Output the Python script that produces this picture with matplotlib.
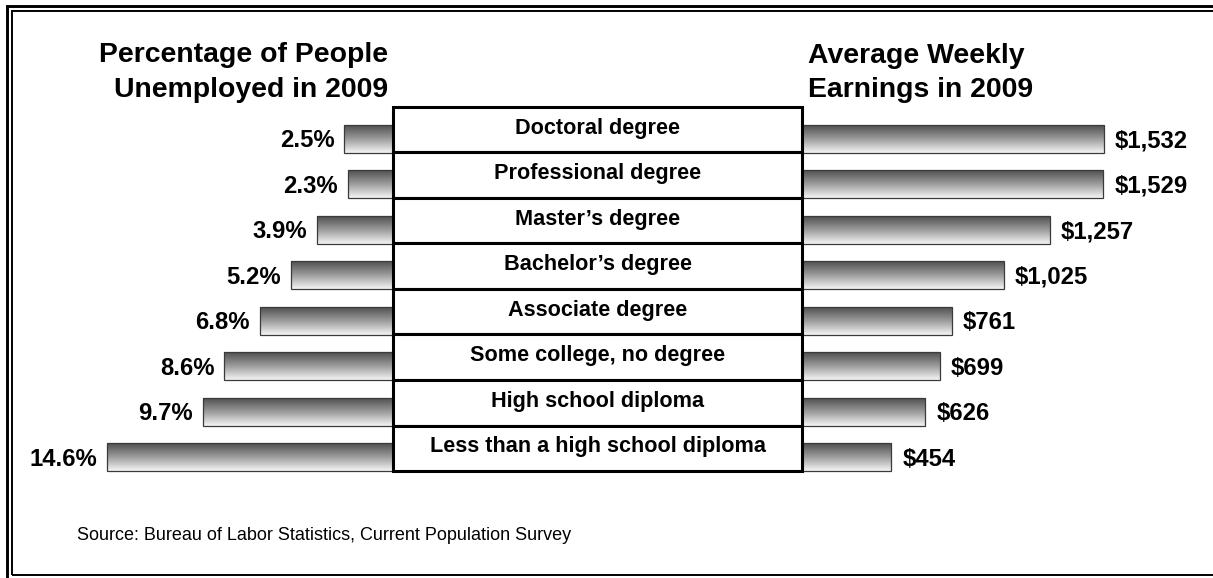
import numpy as np
import matplotlib.pyplot as plt
from matplotlib.patches import Rectangle
from matplotlib.colors import LinearSegmentedColormap

# Data
degrees = ["Doctoral degree", "Professional degree", "Master\u2019s degree",
           "Bachelor\u2019s degree", "Associate degree", "Some college, no degree",
           "High school diploma", "Less than a high school diploma"]
unemployment = [2.5, 2.3, 3.9, 5.2, 6.8, 8.6, 9.7, 14.6]
earnings = [1532, 1529, 1257, 1025, 761, 699, 626, 454]
unemp_labels = ["2.5%", "2.3%", "3.9%", "5.2%", "6.8%", "8.6%", "9.7%", "14.6%"]
earn_labels = ["$1,532", "$1,529", "$1,257", "$1,025", "$761", "$699", "$626", "$454"]

W, H = 1213, 578
fig = plt.figure(figsize=(W / 100, H / 100), dpi=100)
plt.rcParams['font.family'] = ['Liberation Sans', 'DejaVu Sans']


def px_axes(x0, y0, x1, y1):
    # axes placed by pixel box (top-left origin)
    ax = fig.add_axes([x0 / W, 1 - y1 / H, (x1 - x0) / W, (y1 - y0) / H])
    ax.set_axis_off()
    return ax


n = len(degrees)
row_top, row_h = 107, 45.5
y_bot = row_top + row_h * (n + 0.1)
ys = np.arange(n) + 0.7

ax_l = px_axes(20, row_top, 393, y_bot)
ax_r = px_axes(802, row_top, 1200, y_bot)
ax_c = px_axes(393, row_top, 802, y_bot)

cmap = LinearSegmentedColormap.from_list("bar", ["#4a4a4a", "#9a9a9a", "#f6f6f6"])
grad = np.linspace(0, 1, 256).reshape(-1, 1)


def gradient_bars(ax, vals):
    bars = ax.barh(ys, vals, height=0.62, facecolor="none",
                   edgecolor="#3a3a3a", linewidth=0.9, zorder=3)
    for b in bars:
        x0, y0 = b.get_x(), b.get_y()
        w, h = b.get_width(), b.get_height()
        im = ax.imshow(grad, cmap=cmap, aspect="auto", origin="upper",
                       extent=(x0, x0 + w, y0 + h, y0), zorder=2)
        im.set_clip_path(b)
    return bars


gradient_bars(ax_l, unemployment)
gradient_bars(ax_r, earnings)

ax_l.set_xlim(373 / 19.6, 0)
ax_r.set_xlim(0, 398 / 0.197)
for ax in (ax_l, ax_r, ax_c):
    ax.set_ylim(n + 0.1, 0)
ax_c.set_xlim(0, 1)

val_font = dict(fontsize=17.2, fontweight="bold", va="center")
for v, y, lab in zip(unemployment, ys, unemp_labels):
    ax_l.annotate(lab, xy=(v, y), xytext=(-7, -1.5), textcoords="offset points",
                  ha="right", **val_font)
for v, y, lab in zip(earnings, ys, earn_labels):
    ax_r.annotate(lab, xy=(v, y), xytext=(8, -1.5), textcoords="offset points",
                  ha="left", **val_font)

# center label boxes
for i, name in enumerate(degrees):
    ax_c.add_patch(Rectangle((0, i), 1, 1, facecolor="white", edgecolor="black",
                             linewidth=2.2, clip_on=False, zorder=4))
    ax_c.text(0.5, i + 0.47, name, ha="center", va="center", fontsize=15.6,
              fontweight="bold", zorder=5)

# titles
fig.text(388 / W, 1 - 61.7 / H, "Percentage of People", ha="right", va="baseline",
         fontsize=20.4, fontweight="bold")
fig.text(388 / W, 1 - 96.7 / H, "Unemployed in 2009", ha="right", va="baseline",
         fontsize=20.4, fontweight="bold")
fig.text(808 / W, 1 - 63 / H, "Average Weekly", ha="left", va="baseline",
         fontsize=20.4, fontweight="bold")
fig.text(808 / W, 1 - 97 / H, "Earnings in 2009", ha="left", va="baseline",
         fontsize=20.4, fontweight="bold")

fig.text(77 / W, 1 - 540 / H, "Source: Bureau of Labor Statistics, Current Population Survey",
         ha="left", va="baseline", fontsize=13)

# double frame
def frame(x0, y0, x1, y1, lw):
    fig.add_artist(Rectangle((x0 / W, 1 - y1 / H), (x1 - x0) / W, (y1 - y0) / H,
                             transform=fig.transFigure, fill=False,
                             edgecolor="black", linewidth=lw))

frame(6.5, 6, 1240, 600, 2.1)
frame(12, 11, 1230, 574.5, 1.4)

fig.savefig("out.png", dpi=100)
